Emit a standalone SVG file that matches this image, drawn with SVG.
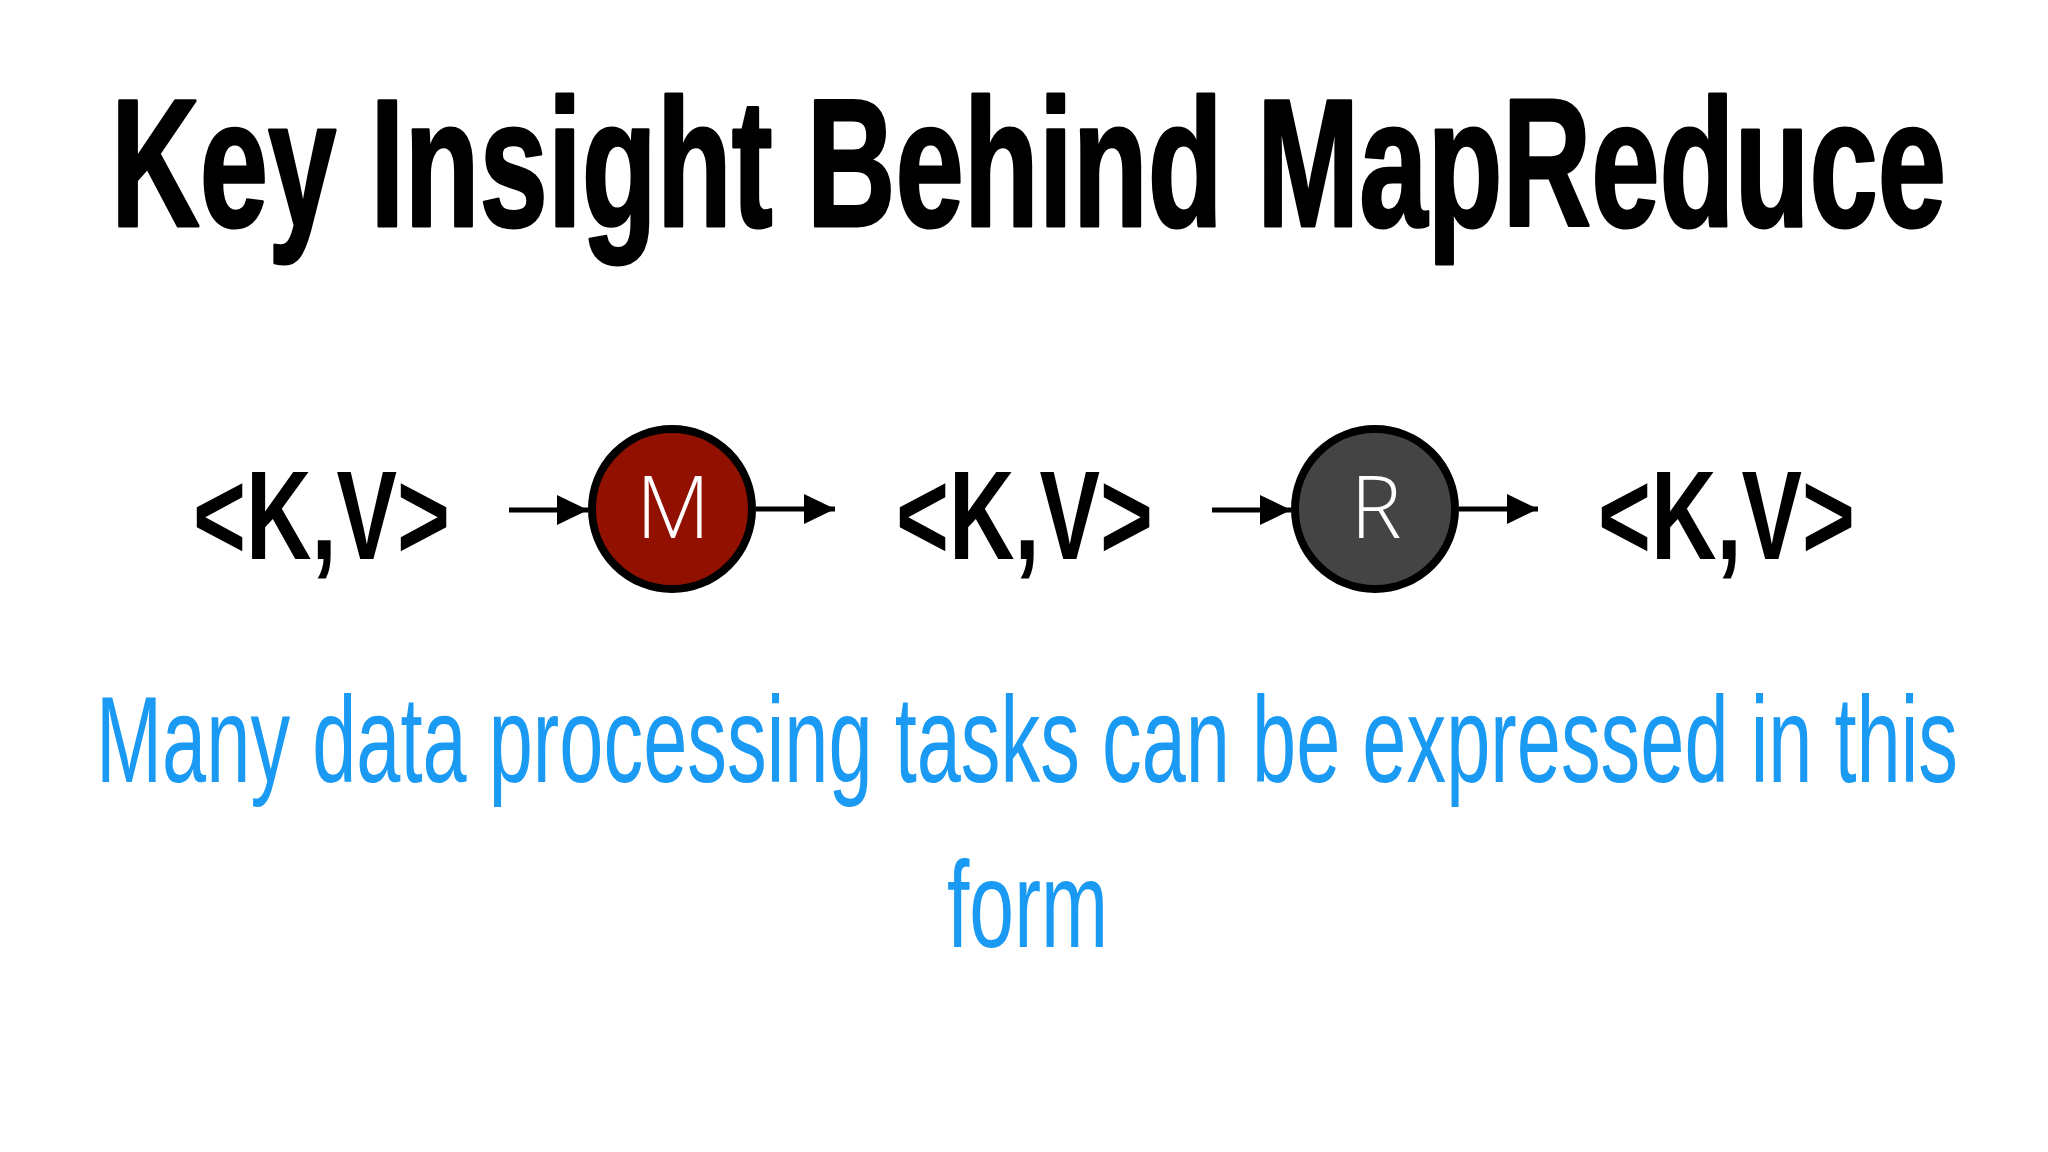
<svg xmlns="http://www.w3.org/2000/svg" width="2048" height="1152" viewBox="0 0 2048 1152">
  <style>
    .title { font-family: "Liberation Sans", Arial, sans-serif; font-weight: bold; font-size: 182px; fill: #000; stroke: #000; stroke-width: 3; stroke-linejoin: round; }
    .kv { font-family: "Liberation Sans", Arial, sans-serif; font-weight: bold; font-size: 126px; fill: #000; }
    .node-label { font-family: "Open Sans", "Liberation Sans", sans-serif; font-weight: 300; font-size: 86px; fill: #fff; text-anchor: middle; }
    .node { stroke: #000; stroke-width: 8; }
    .caption { font-family: "Liberation Sans", Arial, sans-serif; font-size: 122px; fill: #1a9af2; }
    .edge { stroke: #000; stroke-width: 5; fill: none; }
  </style>
  <defs>
    <marker id="arrow" markerUnits="userSpaceOnUse" markerWidth="32" markerHeight="32" refX="31" refY="16" orient="auto">
      <path d="M0,1 L31,16 L0,31 Z" fill="#000"/>
    </marker>
  </defs>
  <rect width="2048" height="1152" fill="#fff"/>

  <g id="title">
    <text class="title" x="111" y="226" textLength="1835" lengthAdjust="spacingAndGlyphs">Key Insight Behind MapReduce</text>
  </g>

  <g id="kv-input">
    <text class="kv" x="193" y="559" textLength="257" lengthAdjust="spacingAndGlyphs">&lt;K,V&gt;</text>
  </g>
  <g id="map">
    <circle class="node" cx="672" cy="509" r="80" fill="#921000"/>
    <text class="node-label" x="673" y="538">M</text>
  </g>
  <g id="kv-intermediate">
    <text class="kv" x="896" y="559" textLength="257" lengthAdjust="spacingAndGlyphs">&lt;K,V&gt;</text>
  </g>
  <g id="reduce">
    <circle class="node" cx="1375" cy="509" r="80" fill="#444444"/>
    <text class="node-label" x="1376" y="538">R</text>
  </g>
  <g id="kv-output">
    <text class="kv" x="1598" y="559" textLength="257" lengthAdjust="spacingAndGlyphs">&lt;K,V&gt;</text>
  </g>

  <g id="connectors">
    <line class="edge" x1="509" y1="510" x2="588" y2="510" marker-end="url(#arrow)"/>
    <line class="edge" x1="756" y1="509" x2="835" y2="509" marker-end="url(#arrow)"/>
    <line class="edge" x1="1212" y1="510" x2="1291" y2="510" marker-end="url(#arrow)"/>
    <line class="edge" x1="1459" y1="509" x2="1538" y2="509" marker-end="url(#arrow)"/>
  </g>

  <g id="caption">
    <text class="caption" x="96" y="782" textLength="1862" lengthAdjust="spacingAndGlyphs">Many data processing tasks can be expressed in this</text>
    <text class="caption" x="947" y="947" textLength="161" lengthAdjust="spacingAndGlyphs">form</text>
  </g>
</svg>
